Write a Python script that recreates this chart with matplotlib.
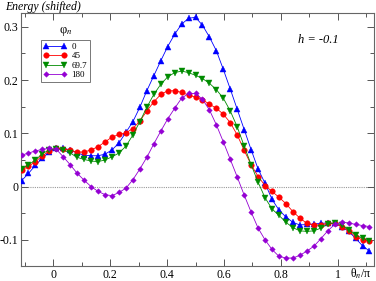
import numpy as np
import matplotlib
matplotlib.use("Agg")
import matplotlib.pyplot as plt
from matplotlib.ticker import MultipleLocator, FuncFormatter

# ---- data ----
theta = np.linspace(-1/9, 10/9, 51)

e_0 = [0.011, 0.025, 0.040, 0.054, 0.065, 0.072, 0.072, 0.069, 0.063, 0.059,
       0.058, 0.058, 0.061, 0.069, 0.082, 0.102, 0.122, 0.149, 0.180, 0.208,
       0.236, 0.263, 0.286, 0.305, 0.316, 0.318, 0.303, 0.281, 0.255, 0.220,
       0.183, 0.145, 0.107, 0.069, 0.033, 0.006, -0.024, -0.044, -0.057, -0.067,
       -0.072, -0.071, -0.070, -0.069, -0.068, -0.069, -0.075, -0.084, -0.097, -0.111,
       -0.121]
e_45 = [0.031, 0.038, 0.047, 0.058, 0.067, 0.072, 0.071, 0.068, 0.065, 0.065,
        0.069, 0.075, 0.084, 0.093, 0.098, 0.101, 0.109, 0.123, 0.142, 0.159,
        0.173, 0.180, 0.180, 0.177, 0.172, 0.168, 0.163, 0.155, 0.147, 0.136,
        0.120, 0.097, 0.068, 0.041, 0.019, 0.002, -0.009, -0.020, -0.032, -0.047,
        -0.059, -0.069, -0.072, -0.072, -0.069, -0.069, -0.075, -0.083, -0.094, -0.100,
        -0.102]
e_69 = [0.033, 0.041, 0.050, 0.062, 0.069, 0.071, 0.069, 0.063, 0.055, 0.051,
        0.048, 0.047, 0.050, 0.056, 0.063, 0.076, 0.097, 0.122, 0.149, 0.173,
        0.192, 0.206, 0.214, 0.217, 0.214, 0.209, 0.203, 0.194, 0.182, 0.166,
        0.142, 0.112, 0.076, 0.041, 0.008, -0.021, -0.042, -0.054, -0.067, -0.077,
        -0.083, -0.084, -0.083, -0.078, -0.070, -0.068, -0.072, -0.081, -0.091, -0.097,
        -0.102]
e_180 = [0.059, 0.063, 0.067, 0.070, 0.072, 0.070, 0.056, 0.041, 0.025, 0.012,
         0.000, -0.009, -0.015, -0.017, -0.011, -0.003, 0.013, 0.033, 0.055, 0.080,
         0.104, 0.127, 0.147, 0.166, 0.175, 0.175, 0.164, 0.144, 0.116, 0.084,
         0.051, 0.018, -0.016, -0.048, -0.078, -0.100, -0.118, -0.131, -0.134, -0.134,
         -0.129, -0.121, -0.112, -0.098, -0.083, -0.071, -0.067, -0.068, -0.071, -0.073,
         -0.075]

labels = ["0", "45", "69.7", "180"]
series = [e_0, e_45, e_69, e_180]
colors = ["#0000ff", "#ff0000", "#008b00", "#9400d3"]
markers = ["^", "o", "v", "D"]
msizes = [3.8, 4.0, 3.8, 2.8]

plt.rcParams['font.family'] = ['Liberation Serif', 'DejaVu Serif']
plt.rcParams['mathtext.fontset'] = 'stix'

W, H = 376, 281
fig = plt.figure(figsize=(W/100, H/100), dpi=100)
ax = fig.add_axes([21/W, 1-266/H, (374-21)/W, (266-13)/H])

ax.axhline(0, color='#999999', lw=0.8, ls=(0, (1, 1)), zorder=1)

handles = []
for y, lab, c, m, ms in zip(series, labels, colors, markers, msizes):
    h, = ax.plot(theta, y, color=c, lw=0.6, marker=m, ms=ms, mec=c, mfc=c,
                 mew=0.3, label=lab, zorder=3)
    handles.append(h)

ax.set_xlim(-0.113, 1.127)
ax.set_ylim(-0.149, 0.326)

ax.xaxis.set_major_locator(MultipleLocator(0.2))
ax.xaxis.set_minor_locator(MultipleLocator(0.1))
ax.yaxis.set_major_locator(MultipleLocator(0.1))
ax.yaxis.set_minor_locator(MultipleLocator(0.05))
fmt = FuncFormatter(lambda v, p: ("%g" % round(v, 3)))
ax.xaxis.set_major_formatter(fmt)
ax.yaxis.set_major_formatter(fmt)

ax.tick_params(which='both', direction='in', top=True, right=True,
               labelsize=8.5, color='#555555', width=0.7, pad=2)
ax.tick_params(which='major', length=5)
ax.tick_params(which='minor', length=3)
for s in ax.spines.values():
    s.set_color('#666666')
    s.set_linewidth(0.8)

fig.text(5/W, 1-7/H, "Energy (shifted)", fontsize=8.5, style='italic',
         ha='left', va='center')
fig.text(361/W, 1-274/H, r"θ$_n$/π", fontsize=8.5, ha='center', va='center')
fig.text(318/W, 1-40/H, "h = -0.1", fontsize=9, style='italic',
         ha='center', va='center')
fig.text(66/W, 1-31/H, r"φ$_{\mathit{n}}$", fontsize=9, ha='center', va='center')

leg = ax.legend(handles=handles, loc='upper left',
                bbox_to_anchor=((41-21)/353, 1-(40-13)/253),
                numpoints=2, fontsize=6.5, frameon=True, fancybox=False,
                handlelength=2.6, handletextpad=0.5, borderpad=0.3,
                labelspacing=0.12, borderaxespad=0)
leg.get_frame().set_edgecolor('#555555')
leg.get_frame().set_linewidth(0.7)
for t in leg.get_texts():
    t.set_ha('left')
leg._legend_box.align = "left"
# widen frame slightly
leg.get_frame().set_width(1)

fig.savefig("out.png", dpi=100)
